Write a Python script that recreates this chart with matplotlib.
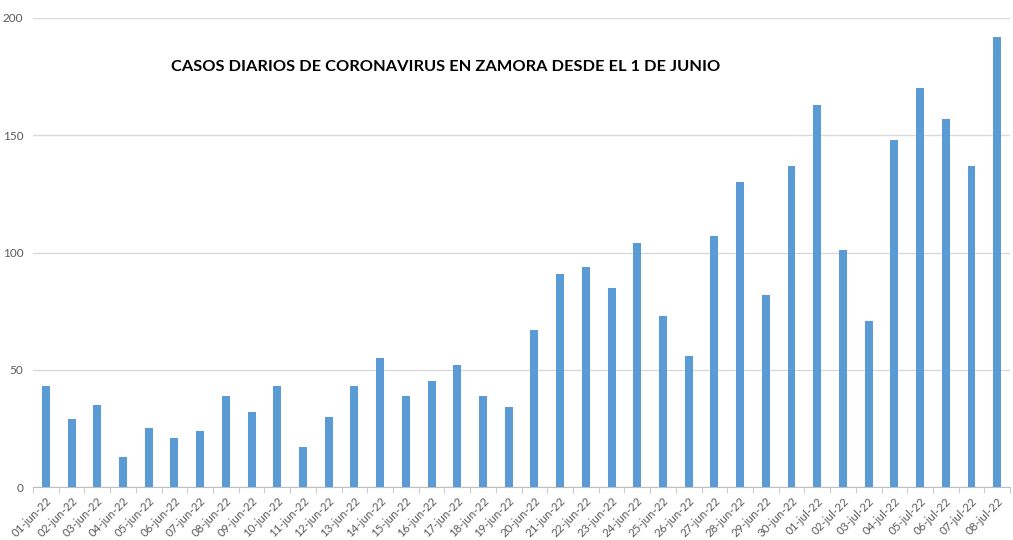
import matplotlib.pyplot as plt
import numpy as np

# Daily cases, 1 June - 8 July 2022
dates = ["01-jun-22", "02-jun-22", "03-jun-22", "04-jun-22", "05-jun-22", "06-jun-22",
         "07-jun-22", "08-jun-22", "09-jun-22", "10-jun-22", "11-jun-22", "12-jun-22",
         "13-jun-22", "14-jun-22", "15-jun-22", "16-jun-22", "17-jun-22", "18-jun-22",
         "19-jun-22", "20-jun-22", "21-jun-22", "22-jun-22", "23-jun-22", "24-jun-22",
         "25-jun-22", "26-jun-22", "27-jun-22", "28-jun-22", "29-jun-22", "30-jun-22",
         "01-jul-22", "02-jul-22", "03-jul-22", "04-jul-22", "05-jul-22", "06-jul-22",
         "07-jul-22", "08-jul-22"]
cases = [43, 29, 35, 13, 25, 21, 24, 39, 32, 43, 17, 30,
         43, 55, 39, 45, 52, 39, 34, 67, 91, 94, 85, 104,
         73, 56, 107, 130, 82, 137, 163, 101, 71, 148, 170, 157,
         137, 192]
y_ticks = [0, 50, 100, 150, 200]

plt.rcParams['font.family'] = ['Lato', 'DejaVu Sans']

fig = plt.figure(figsize=(10.13, 5.4), dpi=100)
ax = fig.add_axes([0.0326, 0.0981, 0.9645, 0.8686])

x = np.arange(len(dates))
ax.bar(x, cases, width=0.31, color='#5B9BD5', zorder=3)

ax.set_xlim(-0.5, len(dates) - 0.5)
ax.set_ylim(0, 200)
ax.set_yticks(y_ticks)
ax.yaxis.grid(True, color='#D9D9D9', linewidth=1, zorder=0)
ax.tick_params(axis='y', length=0, labelsize=8.5, labelcolor='#595959', pad=7)

# category labels at bar centres, tick marks at category boundaries
ax.set_xticks(x)
ax.set_xticklabels(dates, rotation=45, ha='right', rotation_mode='anchor',
                   fontsize=8.3, color='#595959')
ax.tick_params(axis='x', which='major', length=0, pad=6)
ax.set_xticks(np.arange(-0.5, len(dates), 1), minor=True)
ax.tick_params(axis='x', which='minor', length=4, color='#BFBFBF', direction='out')

for side in ['left', 'right', 'top']:
    ax.spines[side].set_visible(False)
ax.spines['bottom'].set_color('#BFBFBF')

ax.text(0.422, 0.895, "CASOS DIARIOS DE CORONAVIRUS EN ZAMORA DESDE EL 1 DE JUNIO",
        transform=ax.transAxes, ha='center', va='center',
        fontsize=11.8, fontweight='bold', color='black')

plt.savefig("out.png", dpi=100)
